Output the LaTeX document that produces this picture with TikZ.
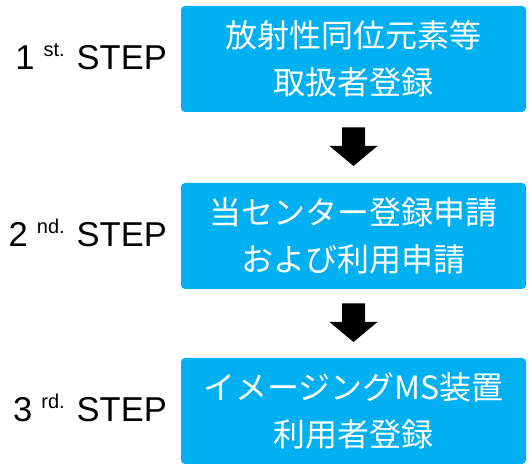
\documentclass[tikz,border=0pt]{standalone}
\usepackage{fontspec}
\setmainfont{Noto Sans CJK JP}
\newfontfamily\labelfont{Liberation Sans}
\usetikzlibrary{positioning,calc}
\definecolor{stepblue}{RGB}{0,176,240}
\newcommand{\ordsup}[1]{\hspace{9pt}\raisebox{13pt}{\fontsize{20}{20}\selectfont #1}\hspace{12pt}}

\begin{document}
\begin{tikzpicture}[x=1pt, y=-1pt, font=\fontsize{32}{46.6}\selectfont,
    stepbox/.style={fill=stepblue, rounded corners=4pt, minimum width=345pt,
      minimum height=106pt, text=white, align=center, inner sep=0pt},
    steplabel/.style={anchor=base east, inner sep=0pt,
      font=\labelfont\fontsize{34.5}{34.5}\selectfont}]
  \path[use as bounding box] (0,0) rectangle (531,470);

  % Step boxes
  \node[stepbox] (reg1) at (353.5,59) {放射性同位元素等\\取扱者登録};
  \node[stepbox] (reg2) at (353.5,236) {当センター登録申請\\および利用申請};
  \node[stepbox] (reg3) at (353.5,411) {イメージングMS装置\\利用者登録};

  % Step labels
  \node[steplabel] (lab1) at (167,69.5) {1\ordsup{st.}STEP};
  \node[steplabel] (lab2) at (167,246.5) {2\ordsup{nd.}STEP};
  \node[steplabel] (lab3) at (167,421.5) {3\ordsup{rd.}STEP};

  % Block arrows between boxes
  \foreach \a/\b in {reg1/reg2,reg2/reg3} {
    \coordinate (mid) at ($(\a.south)!0.5!(\b.north)$);
    \fill ($(mid)+(-11.5,-20)$) -- ($(mid)+(11.5,-20)$) -- ($(mid)+(11.5,-1.5)$)
      -- ($(mid)+(24,-1.5)$) -- ($(mid)+(0,18.5)$) -- ($(mid)+(-24,-1.5)$)
      -- ($(mid)+(-11.5,-1.5)$) -- cycle;
  }

\end{tikzpicture}
\end{document}
